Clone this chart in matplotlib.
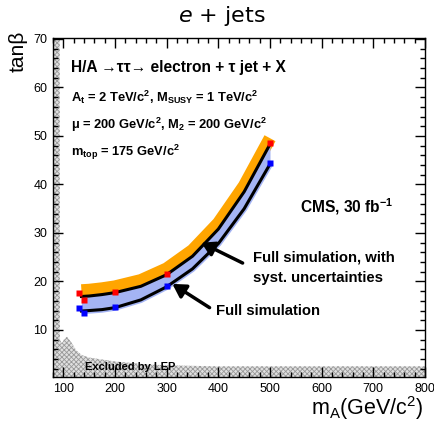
import numpy as np
import matplotlib
matplotlib.use('Agg')
import matplotlib.pyplot as plt
from matplotlib.transforms import offset_copy

mA_curve = [135, 150, 175, 200, 250, 300, 350, 400, 450, 500]
tb_syst = [16.9, 17.0, 17.3, 17.7, 19.0, 21.4, 25.2, 30.8, 38.5, 48.3]
tb_full = [13.9, 14.0, 14.2, 14.6, 16.2, 18.9, 22.6, 27.8, 35.0, 44.2]

mA_pts = [130, 140, 200, 300, 500]
tb_syst_pts = [17.7, 16.2, 17.8, 21.6, 48.6]
tb_full_pts = [14.6, 13.5, 14.8, 19.1, 44.4]

lep_x = [70, 93, 93.5, 97, 101, 107, 115, 125, 136, 150, 169, 200, 250, 300, 400, 800]
lep_y = [70.2, 70.2, 8.0, 7.2, 8.0, 8.6, 7.5, 5.8, 4.8, 4.3, 4.0, 3.5, 3.0, 2.7, 2.5, 2.5]

xticks = [100, 200, 300, 400, 500, 600, 700, 800]
yticks = [10, 20, 30, 40, 50, 60, 70]

root = ['Liberation Sans', 'DejaVu Sans']
plt.rcParams['hatch.linewidth'] = 0.6

fig = plt.figure(figsize=(4.35, 4.23), dpi=100)
W, H = 435, 423
ax = fig.add_axes([53 / W, 1 - 377 / H, 372 / W, 339 / H])
ax.set_xlim(80, 800)
ax.set_ylim(0.3, 70.2)

# LEP excluded region
ax.fill_between(lep_x, 0, lep_y, facecolor='#e0e0e0', edgecolor='#999999',
                hatch='xxxxxxx', linewidth=0, zorder=1)

# bands
orange_tr = offset_copy(ax.transData, fig=fig, x=0, y=6, units='dots')
ax.plot(mA_curve, tb_syst, color='#ffa500', lw=9, solid_capstyle='butt',
        transform=orange_tr, zorder=2)
ax.fill_between(mA_curve, tb_full, tb_syst, color='#a4b4f4', lw=0, zorder=3)
ax.plot(mA_curve, tb_full, color='#a4b4f4', lw=4.5, solid_capstyle='butt', zorder=3)

ax.plot(mA_curve, tb_syst, color='k', lw=2.2, zorder=4)
ax.plot(mA_curve, tb_full, color='k', lw=2.2, zorder=4)
ax.plot(mA_pts, tb_syst_pts, ls='none', marker='s', ms=4, color='#ff0000', mec='none', zorder=5)
ax.plot(mA_pts, tb_full_pts, ls='none', marker='s', ms=4, color='#0000ff', mec='none', zorder=5)

# arrows
ap = dict(arrowstyle='-|>,head_length=0.6,head_width=0.35', lw=2.5, color='k',
          mutation_scale=13, shrinkA=0, shrinkB=0)
ax.annotate('', xy=(367, 28.0), xytext=(447, 23.8), arrowprops=ap, zorder=6)
ax.annotate('', xy=(311, 19.5), xytext=(383, 14.6), arrowprops=ap, zorder=6)

def axfrac(px, py):
    return (px - 53) / 372, (377 - py) / 339

kw = dict(transform=ax.transAxes, family=root, fontweight='bold', va='center', ha='left', zorder=7)
ax.text(*axfrac(71, 68), 'H/A \u2192\u03c4\u03c4\u2192 electron + \u03c4 jet + X', fontsize=11.2, **kw)
ax.text(*axfrac(71, 97), r'A$_\mathregular{t}$ = 2 TeV/c$^\mathregular{2}$, M$_\mathregular{SUSY}$ = 1 TeV/c$^\mathregular{2}$',
        fontsize=9.3, **kw)
ax.text(*axfrac(71, 125), '\u03bc' + r' = 200 GeV/c$^\mathregular{2}$, M$_\mathregular{2}$ = 200 GeV/c$^\mathregular{2}$',
        fontsize=9.3, **kw)
ax.text(*axfrac(71, 152), r'm$_\mathregular{top}$ = 175 GeV/c$^\mathregular{2}$', fontsize=9.3, **kw)
ax.text(*axfrac(300, 207), r'CMS, 30 fb$^\mathregular{-1}$', fontsize=11.2, **kw)
ax.text(*axfrac(253, 258), 'Full simulation, with', fontsize=10.7, **kw)
ax.text(*axfrac(253, 278), 'syst. uncertainties', fontsize=10.7, **kw)
ax.text(*axfrac(216, 311), 'Full simulation', fontsize=10.7, **kw)
ax.text(*axfrac(85, 367), 'Excluded by LEP', fontsize=8, **kw)

# ROOT-like axes
ax.set_xticks(xticks)
ax.set_yticks(yticks)
ax.set_xticks(np.arange(80, 801, 20), minor=True)
ax.set_yticks(np.arange(2, 71, 2), minor=True)
ax.tick_params(which='both', direction='in', top=True, right=True, width=1, color='k')
ax.tick_params(which='major', length=7, labelsize=9, pad=4)
ax.tick_params(which='minor', length=3.5)
for lab in ax.get_xticklabels() + ax.get_yticklabels():
    lab.set_family(root)
for s in ax.spines.values():
    s.set_linewidth(1)

fig.text(222 / W, 1 - 16 / H, r'$e$ + jets', fontsize=16, ha='center', va='center')
fig.text(18 / W, 1 - 31 / H, 'tan\u03b2', rotation=90, fontsize=15, family=root,
         ha='center', va='top')
fig.text(424 / W, 1 - 408.5 / H, r'm$_\mathregular{A}$(GeV/c$^\mathregular{2}$)', fontsize=15.5,
         family=root, ha='right', va='center')

fig.savefig('out.png', dpi=100)
